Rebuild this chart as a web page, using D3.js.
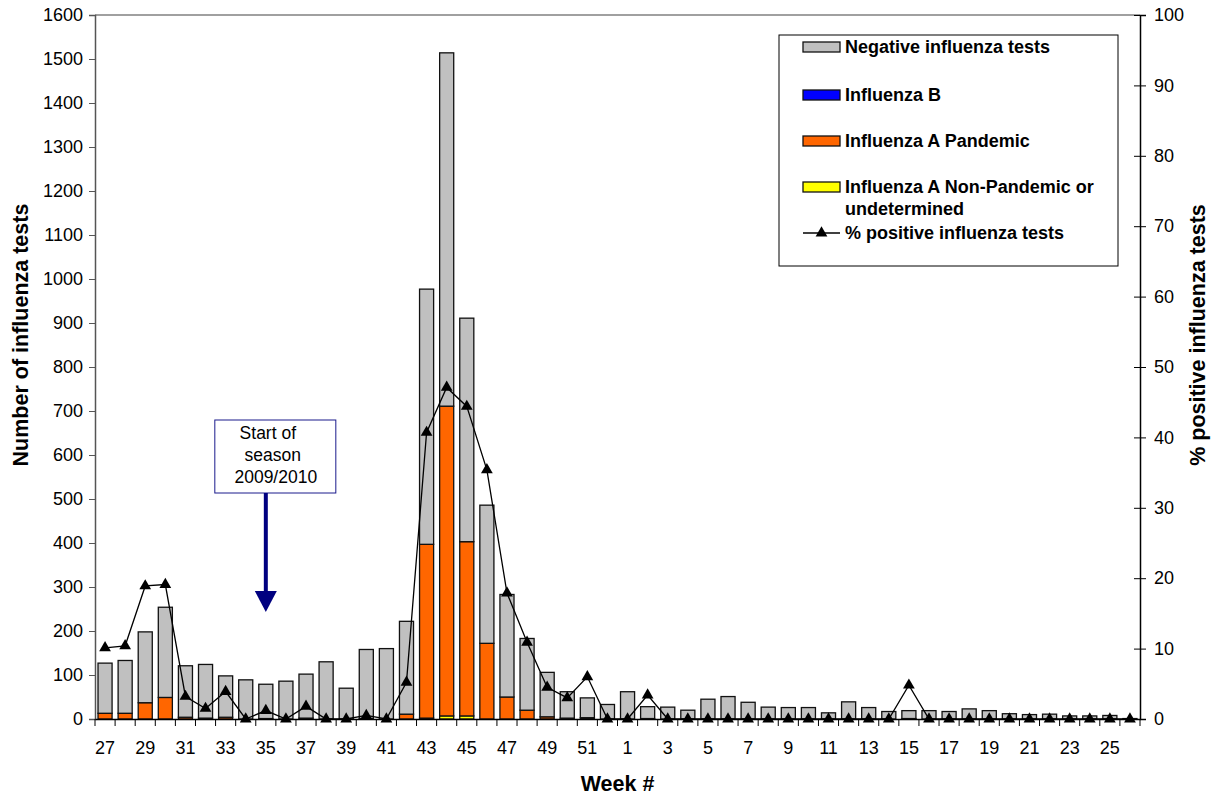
<!DOCTYPE html>
<html>
<head>
<meta charset="utf-8">
<script src="https://cdn.jsdelivr.net/npm/d3@7"></script>
<style>
  body { margin: 0; background: #fff; }
  svg text { font-family: "Liberation Sans", Arial, sans-serif; fill: #000; }
  .tick text { font-size: 18px; }
  .axis-title { font-size: 21.5px; font-weight: bold; }
  .legend text { font-size: 18px; font-weight: bold; }
</style>
</head>
<body>
<div class="chart"></div>
<script>
// weeks of the 2009/2010 season
const weeks = [27,28,29,30,31,32,33,34,35,36,37,38,39,40,41,42,43,44,45,46,47,48,49,50,51,52,
               1,2,3,4,5,6,7,8,9,10,11,12,13,14,15,16,17,18,19,20,21,22,23,24,25,26]

const nonPandemic = [0,0,0,0,0,0,0,0,0,0,0,0,0,0,0,0,2,7,7,0,0,0,0,0,0,0,
                     0,0,0,0,0,0,0,0,0,0,0,0,0,0,0,0,0,0,0,0,0,0,0,0,0,0]
const pandemic = [13,13,37,49,4,2,4,0,1,0,2,0,0,1,0,11,395,704,396,172,50,20,5,2,3,0,
                  0,1,0,0,0,0,0,0,0,0,0,0,0,0,1,0,0,0,0,0,0,0,0,0,0,0]
const fluB = [0,0,0,0,0,0,0,0,0,0,0,0,0,0,0,0,0,0,0,0,0,0,0,0,0,0,
              0,0,0,0,0,0,0,0,0,0,0,0,0,0,0,0,0,0,0,0,0,0,0,0,0,0]
const negative = [114,120,161,205,117,122,94,89,78,86,100,130,70,157,160,211,580,803,508,314,233,163,101,60,45,33,
                  62,27,27,20,45,51,38,27,26,26,14,39,26,17,18,19,17,23,19,12,10,11,7,7,8,1]
const pctPositive = [10.1,10.4,18.9,19.1,3.2,1.5,3.9,0,1.2,0,1.8,0,0,0.5,0,5.2,40.7,47.1,44.4,35.4,17.9,10.9,4.5,3.0,6.0,0,
                     0,3.4,0,0,0,0,0,0,0,0,0,0,0,0,4.8,0,0,0,0,0,0,0,0,0,0,0]

const seriesKeys = ["nonPandemic", "pandemic", "fluB", "negative"]
const seriesColor = {nonPandemic: "#ffff00", pandemic: "#ff6600", fluB: "#0000ff", negative: "#c0c0c0"}
const legendItems = [
    {key: "negative", lines: ["Negative influenza tests"]},
    {key: "fluB", lines: ["Influenza B"]},
    {key: "pandemic", lines: ["Influenza A Pandemic"]},
    {key: "nonPandemic", lines: ["Influenza A Non-Pandemic or", "undetermined"]}
]
const leftTicks = d3.range(0, 1601, 100)
const rightTicks = d3.range(0, 101, 10)

const data = weeks.map((w, i) => ({
    week: String(w),
    nonPandemic: nonPandemic[i],
    pandemic: pandemic[i],
    fluB: fluB[i],
    negative: negative[i],
    pct: pctPositive[i]
}))

const margin = {top: 15, right: 78, bottom: 78, left: 95}
const W = 1218, H = 797
const width = W - margin.left - margin.right
const height = H - margin.top - margin.bottom

const svg = d3.select(".chart").append("svg")
        .attr("width", W)
        .attr("height", H)
    .append("g")
        .attr("transform", `translate(${margin.left},${margin.top})`)

const xScale = d3.scaleBand()
    .domain(data.map(d => d.week))
    .range([0, width])
    .paddingInner(0.3)
    .paddingOuter(0.15)

const yScale = d3.scaleLinear().domain([0, 1600]).range([height, 0])
const y2Scale = d3.scaleLinear().domain([0, 100]).range([height, 0])

// top frame line
svg.append("line")
    .attr("x1", 0).attr("x2", width).attr("y1", 0).attr("y2", 0)
    .attr("stroke", "#808080").attr("stroke-width", 1.5)

// stacked bars
const stacked = d3.stack().keys(seriesKeys)(data)
svg.append("g").selectAll("g")
    .data(stacked)
    .join("g")
        .attr("fill", d => seriesColor[d.key])
    .selectAll("rect")
    .data(d => d.filter(s => s[1] - s[0] > 0))
    .join("rect")
        .attr("x", d => xScale(d.data.week))
        .attr("y", d => yScale(d[1]))
        .attr("width", xScale.bandwidth())
        .attr("height", d => yScale(d[0]) - yScale(d[1]))
        .attr("stroke", "#111")
        .attr("stroke-width", 1.3)

// axes
const yAxis = d3.axisLeft(yScale).tickValues(leftTicks).tickSize(6).tickPadding(6)
    .tickFormat(d3.format("d"))
svg.append("g")
    .call(yAxis)
    .call(g => g.select(".domain").attr("stroke", "#555").attr("stroke-width", 1.5))
    .call(g => g.selectAll(".tick line").attr("stroke", "#555"))

const y2Axis = d3.axisRight(y2Scale).tickValues(rightTicks).tickSize(6).tickPadding(8)
svg.append("g")
    .attr("transform", `translate(${width},0)`)
    .call(y2Axis)
    .call(g => g.select(".domain").attr("stroke", "#000").attr("stroke-width", 1.5))
    .call(g => g.selectAll(".tick line").attr("x1", -6))

const xAxis = d3.axisBottom(xScale)
    .tickSize(0).tickPadding(22)
    .tickFormat((d, i) => i % 2 === 0 ? d : "")
const xGroup = svg.append("g")
    .attr("transform", `translate(0,${height})`)
    .call(xAxis)
    .call(g => g.select(".domain").attr("stroke", "#000").attr("stroke-width", 1.5))
// tick marks between weeks
const step = xScale.step()
xGroup.selectAll(".sep")
    .data(d3.range(data.length + 1))
    .join("line")
        .attr("class", "sep")
        .attr("x1", i => i * step).attr("x2", i => i * step)
        .attr("y1", 0).attr("y2", 7)
        .attr("stroke", "#000")

// % positive line
const line = d3.line()
    .x(d => xScale(d.week) + xScale.bandwidth() / 2)
    .y(d => y2Scale(d.pct))
svg.append("path")
    .datum(data)
    .attr("fill", "none")
    .attr("stroke", "#000")
    .attr("stroke-width", 1.3)
    .attr("d", line)

const tri = d3.symbol().type(d3.symbolTriangle).size(60)
svg.append("g").selectAll("path")
    .data(data)
    .join("path")
        .attr("transform", d => `translate(${xScale(d.week) + xScale.bandwidth() / 2},${y2Scale(d.pct)})`)
        .attr("d", tri)
        .attr("fill", "#000")

// axis titles
svg.append("text")
    .attr("class", "axis-title")
    .attr("transform", `translate(${-67},${height / 2 - 32}) rotate(-90)`)
    .attr("text-anchor", "middle")
    .text("Number of influenza tests")

svg.append("text")
    .attr("class", "axis-title")
    .attr("transform", `translate(${width + 65},${height / 2 - 32}) rotate(-90)`)
    .attr("text-anchor", "middle")
    .text("% positive influenza tests")

svg.append("text")
    .attr("class", "axis-title")
    .attr("x", width / 2)
    .attr("y", height + 72)
    .attr("text-anchor", "middle")
    .text("Week #")

// start of season annotation
const ax = xScale("35") + xScale.bandwidth() / 2
const note = svg.append("g")
note.append("rect")
    .attr("x", ax - 51).attr("y", 405)
    .attr("width", 121).attr("height", 73)
    .attr("fill", "#fff").attr("stroke", "#1a1a8c").attr("stroke-width", 1)
const noteLines = ["Start of", "season", "2009/2010"]
note.selectAll("text")
    .data(noteLines)
    .join("text")
        .attr("x", (d, i) => ax + [2, 7, 10][i])
        .attr("y", (d, i) => 424 + i * 22)
        .attr("text-anchor", "middle")
        .style("font-size", "17.5px")
        .text(d => d)
note.append("line")
    .attr("x1", ax).attr("x2", ax)
    .attr("y1", 478).attr("y2", 578)
    .attr("stroke", "#000080").attr("stroke-width", 4)
note.append("path")
    .attr("d", `M${ax - 11},${576} L${ax + 11},${576} L${ax},${597} Z`)
    .attr("fill", "#000080")

// legend
const legend = svg.append("g").attr("class", "legend")
    .attr("transform", `translate(${779 - margin.left},${35 - margin.top})`)
legend.append("rect")
    .attr("width", 339).attr("height", 231)
    .attr("fill", "#fff").attr("stroke", "#000").attr("stroke-width", 1)
const rowY = [12, 60, 106, 152]
legendItems.forEach((item, i) => {
    legend.append("rect")
        .attr("x", 24).attr("y", rowY[i] - 5)
        .attr("width", 37).attr("height", 10)
        .attr("fill", seriesColor[item.key])
        .attr("stroke", "#111").attr("stroke-width", 1.3)
    item.lines.forEach((t, j) => {
        legend.append("text")
            .attr("x", 66).attr("y", rowY[i] + j * 22)
            .attr("dy", "0.36em")
            .text(t)
    })
})
legend.append("line")
    .attr("x1", 24).attr("x2", 61).attr("y1", 198).attr("y2", 198)
    .attr("stroke", "#000").attr("stroke-width", 1.3)
legend.append("path")
    .attr("transform", "translate(42.5,198)")
    .attr("d", tri)
    .attr("fill", "#000")
legend.append("text")
    .attr("x", 66).attr("y", 198).attr("dy", "0.36em")
    .text("% positive influenza tests")
</script>
</body>
</html>
